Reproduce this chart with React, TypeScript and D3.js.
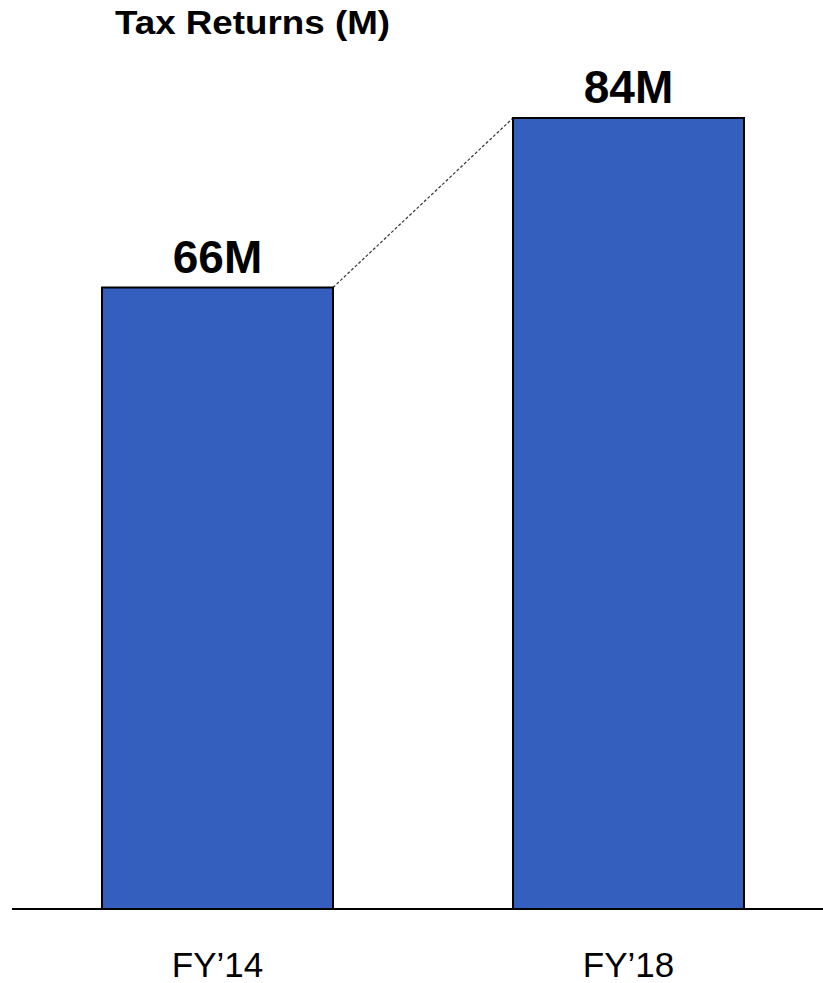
import React from "react";
import * as d3 from "d3";

const categories = ["FY\u201914", "FY\u201918"];
const values = [66, 84];
const valueLabels = ["66M", "84M"];
const title = "Tax Returns (M)";

const W = 823;
const H = 983;
const baseY = 909;
const topY = 118;

export default function App() {
  const x = d3
    .scaleBand<string>()
    .domain(categories)
    .range([12, 834])
    .paddingInner(0.438)
    .paddingOuter(0.219);
  const y = d3.scaleLinear().domain([0, 84]).range([baseY, topY]);
  const bw = x.bandwidth();
  const font = "'Liberation Sans', Arial, Helvetica, sans-serif";

  const x0 = (x(categories[0]) as number) + bw;
  const y0 = y(values[0]);
  const x1 = x(categories[1]) as number;
  const y1 = y(values[1]);

  return (
    <svg
      width={W}
      height={H}
      style={{ position: "absolute", left: 0, top: 0, display: "block", background: "#fff" }}
    >
      <text
        x={115}
        y={34}
        fontFamily={font}
        fontWeight="bold"
        fontSize={33}
        textLength={275}
        lengthAdjust="spacingAndGlyphs"
        fill="#000"
      >
        {title}
      </text>
      <line
        x1={x0}
        y1={y0}
        x2={x1}
        y2={y1}
        stroke="#333"
        strokeWidth={1.2}
        strokeDasharray="3,2"
      />
      {categories.map((c, i) => (
        <g key={c}>
          <rect
            x={x(c) as number}
            y={y(values[i])}
            width={bw}
            height={baseY - y(values[i])}
            fill="#355FBE"
            stroke="#000"
            strokeWidth={2}
          />
          <text
            x={(x(c) as number) + bw / 2}
            y={y(values[i]) - 15}
            textAnchor="middle"
            fontFamily={font}
            fontWeight="bold"
            fontSize={46}
            fill="#000"
          >
            {valueLabels[i]}
          </text>
          <text
            x={(x(c) as number) + bw / 2}
            y={977}
            textAnchor="middle"
            fontFamily={font}
            fontSize={35}
            fill="#000"
          >
            {c}
          </text>
        </g>
      ))}
      <line x1={12} x2={W} y1={baseY} y2={baseY} stroke="#000" strokeWidth={2} />
    </svg>
  );
}
